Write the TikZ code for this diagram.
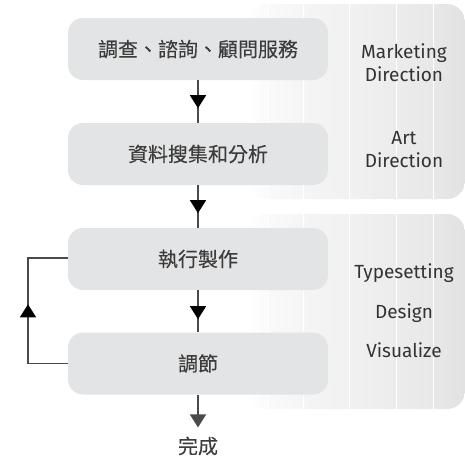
\documentclass[tikz,border=0pt]{standalone}
\usepackage{fontspec}
\setmainfont{Noto Sans CJK TC}
\newfontfamily\cjkfont{Noto Sans CJK TC}[FakeBold=0.12]
\newfontfamily\rolefont{Fira Sans}
\usetikzlibrary{arrows.meta,decorations.markings,shadings}

\definecolor{boxgray}{HTML}{E3E4E5}
\definecolor{inkgray}{HTML}{333333}
\definecolor{cjkgray}{HTML}{3C3C3C}
\definecolor{linegray}{HTML}{4A4A4A}

% light horizontal fade behind the role labels; the panel spans 25bp..75bp
\pgfdeclarehorizontalshading{rolefade}{100bp}{
  color(0bp)=(white);
  color(25bp)=(white);
  color(29.4bp)=(white!98!black);
  color(37.7bp)=(white!96!black);
  color(48.3bp)=(white!94.5!black);
  color(59.1bp)=(white!92.5!black);
  color(67.6bp)=(white!91!black);
  color(75bp)=(white!88.5!black);
  color(100bp)=(white!88.5!black)
}

\tikzset{
  stepbox/.style={fill=boxgray, rounded corners=15pt, minimum width=260pt,
    minimum height=62pt, inner sep=0pt, text=cjkgray, font=\cjkfont\fontsize{20}{24}\selectfont},
  rolelabel/.style={text=inkgray, align=center, inner sep=0pt},
  flowline/.style={draw=linegray, line width=1.4pt},
  midarrow/.style={postaction={decorate}, decoration={markings,
    mark=at position #1 with {\arrow[black]{Triangle[length=13pt,width=16pt]}}}},
  panel/.style={shading=rolefade, rounded corners=18pt},
  divider/.style={draw=white, line width=1pt}
}

\begin{document}
\begin{tikzpicture}[x=1pt,y=-1pt]
\useasboundingbox (0,0) rectangle (465,456);

% shaded role panels with white dividers
\foreach \top/\bot in {4/199, 214/409}{
  \shade[panel] (248,\top) rectangle (465,\bot);
  \foreach \xx in {267,303,349,396,433}
    \draw[divider] (\xx,\top) -- (\xx,\bot);
}

% process steps
\node[stepbox] (s1) at (198,49) {調查、諮詢、顧問服務};
\node[stepbox] (s2) at (198,154) {資料搜集和分析};
\node[stepbox] (s3) at (198,259) {執行製作};
\node[stepbox] (s4) at (198,363.5) {調節};
\node[text=cjkgray, font=\cjkfont\fontsize{20}{24}\selectfont, inner sep=0pt] (done) at (198,446) {完成};

% role labels
\node[rolelabel, font=\rolefont\fontsize{19}{23}\selectfont] (r1) at (404,62.5) {Marketing\\Direction};
\node[rolelabel, font=\rolefont\fontsize{19}{23}\selectfont] (r2) at (404,150) {Art\\Direction};
\node[rolelabel, font=\rolefont\fontsize{19}{39.5}\selectfont] (r3) at (404,311) {Typesetting\\Design\\Visualize};

% connectors
\draw[flowline, midarrow=28pt] (s1.south) -- (s2.north);
\draw[flowline, midarrow=28pt] (s2.south) -- (s3.north);
\draw[flowline, midarrow=29pt] (s3.south) -- (s4.north);
\draw[flowline, shorten >=9pt, -{Triangle[length=13pt,width=16pt]}] (s4.south) -- (done.north);
\coordinate (loopb) at (28,363.5);
\coordinate (loopt) at (28,258);
\draw[flowline, midarrow=99pt] (s4.west) -- (loopb) -- (loopt) -- (s3.west |- loopt);
\end{tikzpicture}
\end{document}
